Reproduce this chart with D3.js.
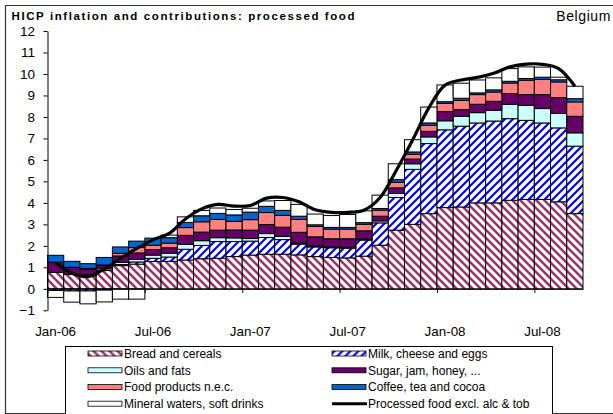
<!DOCTYPE html>
<html>
<head>
<meta charset="utf-8">
<script src="https://cdn.jsdelivr.net/npm/d3@7/dist/d3.min.js"></script>
<style>
  body { margin: 0; background: #fff; }
  text { font-family: Arial, "Liberation Sans", sans-serif; fill: #000; }
</style>
</head>
<body>
<div id="chart"></div>
<script>
// monthly categories and the labelled ones on the x axis
const months = ["Jan-06","Feb-06","Mar-06","Apr-06","May-06","Jun-06","Jul-06","Aug-06","Sep-06","Oct-06","Nov-06","Dec-06",
                "Jan-07","Feb-07","Mar-07","Apr-07","May-07","Jun-07","Jul-07","Aug-07","Sep-07","Oct-07","Nov-07","Dec-07",
                "Jan-08","Feb-08","Mar-08","Apr-08","May-08","Jun-08","Jul-08","Aug-08","Sep-08"];
const tickMonths = ["Jan-06","Jul-06","Jan-07","Jul-07","Jan-08","Jul-08"];
const yTicks = [-1,0,1,2,3,4,5,6,7,8,9,10,11,12];

// contributions (percentage points)
const bread   = [0.76,0.67,0.60,0.85,1.08,1.15,1.27,1.28,1.34,1.40,1.42,1.50,1.57,1.61,1.61,1.58,1.50,1.46,1.44,1.52,2.03,2.73,3.00,3.50,3.78,3.81,4.00,4.00,4.12,4.16,4.16,4.05,3.50];
const milk    = [-0.08,-0.10,-0.10,-0.06,0.05,0.10,0.15,0.20,0.50,0.62,0.78,0.70,0.65,0.78,0.68,0.50,0.45,0.45,0.45,0.75,1.04,1.52,2.56,3.26,3.62,3.76,3.72,3.81,3.80,3.68,3.56,3.44,3.14];
const oils    = [0,0,0.05,0.08,0.10,0.12,0.15,0.18,0.23,0.22,0.18,0.17,0.12,0.18,0.15,0.05,0.05,0.04,0.04,0.05,0.09,0.19,0.26,0.31,0.42,0.46,0.48,0.50,0.67,0.70,0.67,0.67,0.62];
const sugar   = [0.48,0.33,0.25,0.15,0.30,0.30,0.26,0.25,0.42,0.40,0.35,0.37,0.39,0.42,0.43,0.50,0.42,0.38,0.40,0.38,0.22,0.26,0.22,0.26,0.43,0.31,0.39,0.42,0.50,0.50,0.65,0.74,0.77];
const foodNec = [0,0,0.05,0.03,0.12,0.25,0.20,0.22,0.36,0.48,0.50,0.40,0.49,0.56,0.55,0.60,0.48,0.45,0.45,0.30,0.28,0.26,0.22,0.28,0.38,0.43,0.45,0.43,0.49,0.67,0.71,0.73,0.67];
const coffee  = [0.32,0.28,0.22,0.35,0.30,0.30,0.33,0.25,0.24,0.28,0.28,0.30,0.35,0.29,0.23,0.15,0.08,0.08,0.08,0.08,0.08,0.12,0.11,0.11,0.08,0.10,0.08,0.10,0.08,0.08,0.10,0.10,0.15];
const mineral = [-0.32,-0.52,-0.60,-0.55,-0.48,-0.48,0,0.12,0.26,0.25,0.25,0.25,0.18,0.25,0.46,0.55,0.50,0.55,0.60,0.55,0.62,0.74,0.57,0.74,0.78,0.70,0.60,0.56,0.59,0.54,0.47,0.12,0.58];
// headline: processed food excl. alcohol & tobacco (%)
const processed = [1.21,0.72,0.57,0.92,1.42,1.88,2.28,2.58,3.25,3.72,3.93,3.85,3.88,4.22,4.25,4.05,3.68,3.56,3.56,3.66,4.25,5.52,6.93,8.42,9.48,9.72,9.84,10.03,10.33,10.46,10.45,10.25,9.43];

const seriesKeys = ["bread","milk","oils","sugar","foodNec","coffee","mineral"];
const seriesNames = {
  bread: "Bread and cereals", milk: "Milk, cheese and eggs", oils: "Oils and fats",
  sugar: "Sugar, jam, honey, ...", foodNec: "Food products n.e.c.", coffee: "Coffee, tea and cocoa",
  mineral: "Mineral waters, soft drinks"
};
const fills = {
  bread: "url(#breadPat)", milk: "url(#milkPat)", oils: "#ccffff", sugar: "#660066",
  foodNec: "#ff8080", coffee: "#0066cc", mineral: "#ffffff"
};

const rows = months.map((m, i) => ({
  month: m, bread: bread[i], milk: milk[i], oils: oils[i], sugar: sugar[i],
  foodNec: foodNec[i], coffee: coffee[i], mineral: mineral[i], processed: processed[i]
}));

const W = 613, H = 414;
const svg = d3.select("#chart").append("svg")
  .attr("width", W).attr("height", H)
  .style("display", "block");

// hatch patterns like the excel "wide diagonal" fills
const defs = svg.append("defs");
const breadPat = defs.append("pattern").attr("id", "breadPat")
  .attr("patternUnits", "userSpaceOnUse").attr("width", 8).attr("height", 8);
breadPat.append("rect").attr("width", 8).attr("height", 8).attr("fill", "#fff");
breadPat.append("path").attr("d", "M-2,-2L10,10M-2,6L2,10M6,-2L10,2")
  .attr("stroke", "#993366").attr("stroke-width", 2.5);
const milkPat = defs.append("pattern").attr("id", "milkPat")
  .attr("patternUnits", "userSpaceOnUse").attr("width", 8).attr("height", 8);
milkPat.append("rect").attr("width", 8).attr("height", 8).attr("fill", "#fff");
milkPat.append("path").attr("d", "M-2,10L10,-2M-2,2L2,-2M6,10L10,6")
  .attr("stroke", "#0000ff").attr("stroke-width", 2.2);

// chart frame (left, top, bottom)
svg.append("path")
  .attr("d", `M${W},5.5H5.5V413.5H${W}`)
  .attr("fill", "none").attr("stroke", "#333").attr("stroke-width", 1.2);

const plot = { left: 47.5, right: 583, top: 31, bottom: 310.3 };

const x = d3.scaleBand().domain(months).range([plot.left, plot.right]).padding(0);
const y = d3.scaleLinear().domain([-1, 12]).range([plot.bottom, plot.top]);

const stacked = d3.stack().keys(seriesKeys).offset(d3.stackOffsetDiverging)(rows);

svg.append("g").selectAll("g")
  .data(stacked)
  .join("g")
  .attr("fill", d => fills[d.key])
  .selectAll("rect")
  .data(d => d.filter(s => s[1] !== s[0]))
  .join("rect")
  .attr("x", d => x(d.data.month))
  .attr("y", d => y(Math.max(d[0], d[1])))
  .attr("width", x.bandwidth())
  .attr("height", d => Math.abs(y(d[0]) - y(d[1])))
  .attr("stroke", "#000")
  .attr("stroke-width", 1);

// y axis
svg.append("g")
  .attr("transform", `translate(${plot.left},0)`)
  .call(d3.axisLeft(y).tickValues(yTicks).tickSize(4).tickSizeOuter(0).tickPadding(8.5))
  .call(g => g.selectAll("text").style("font-size", "13.5px"))
  .call(g => g.selectAll("path,line").attr("stroke", "#000"));

// x axis on the zero line, ticks between categories every six months
const edge = d3.scaleLinear().domain([0, months.length]).range([plot.left, plot.right]);
svg.append("g")
  .attr("transform", `translate(0,${y(0)})`)
  .call(d3.axisBottom(edge)
    .tickValues(tickMonths.map(m => months.indexOf(m)))
    .tickFormat("").tickSize(4).tickSizeOuter(0))
  .call(g => g.selectAll("path,line").attr("stroke", "#000"));

svg.append("g").selectAll("text")
  .data(tickMonths)
  .join("text")
  .attr("x", d => x(d) + x.bandwidth() / 2)
  .attr("y", 335.5)
  .attr("text-anchor", "middle")
  .style("font-size", "13.4px")
  .text(d => d);

// headline line
const line = d3.line()
  .x(d => x(d.month) + x.bandwidth() / 2)
  .y(d => y(d.processed))
  .curve(d3.curveCatmullRom.alpha(0.5));
svg.append("path")
  .datum(rows)
  .attr("d", line)
  .attr("fill", "none")
  .attr("stroke", "#000")
  .attr("stroke-width", 3.2);

// titles
svg.append("text")
  .attr("x", 11.5).attr("y", 20)
  .attr("textLength", 343).attr("lengthAdjust", "spacing")
  .style("font-size", "11.5px").style("font-weight", "bold")
  .text("HICP inflation and contributions: processed food");
svg.append("text")
  .attr("x", 611).attr("y", 21)
  .attr("text-anchor", "end")
  .style("font-size", "14px").style("letter-spacing", "0.6px")
  .text("Belgium");

// legend
const legend = svg.append("g");
legend.append("rect")
  .attr("x", 65.5).attr("y", 346.5).attr("width", 487).attr("height", 80)
  .attr("fill", "#fff").attr("stroke", "#000").attr("stroke-width", 1);

const legendItems = seriesKeys.map(k => ({ key: k, label: seriesNames[k] }))
  .concat([{ key: "processed", label: "Processed food excl. alc & tob" }]);
const rowY = [353.5, 370.3, 387, 403.7];

const item = legend.selectAll("g.item")
  .data(legendItems)
  .join("g")
  .attr("class", "item")
  .attr("transform", (d, i) => `translate(${i % 2 ? 332 : 88},${rowY[Math.floor(i / 2)]})`);

item.filter(d => d.key !== "processed")
  .append("rect")
  .attr("x", 0).attr("y", -2.5).attr("width", 34).attr("height", 5)
  .attr("fill", d => fills[d.key])
  .attr("stroke", "#000").attr("stroke-width", 0.8);

item.filter(d => d.key === "processed")
  .append("line")
  .attr("x1", 0).attr("x2", 35).attr("y1", 0).attr("y2", 0)
  .attr("stroke", "#000").attr("stroke-width", 3);

item.append("text")
  .attr("x", 36)
  .attr("y", 4.3)
  .style("font-size", "12px")
  .text(d => d.label);
</script>
</body>
</html>
